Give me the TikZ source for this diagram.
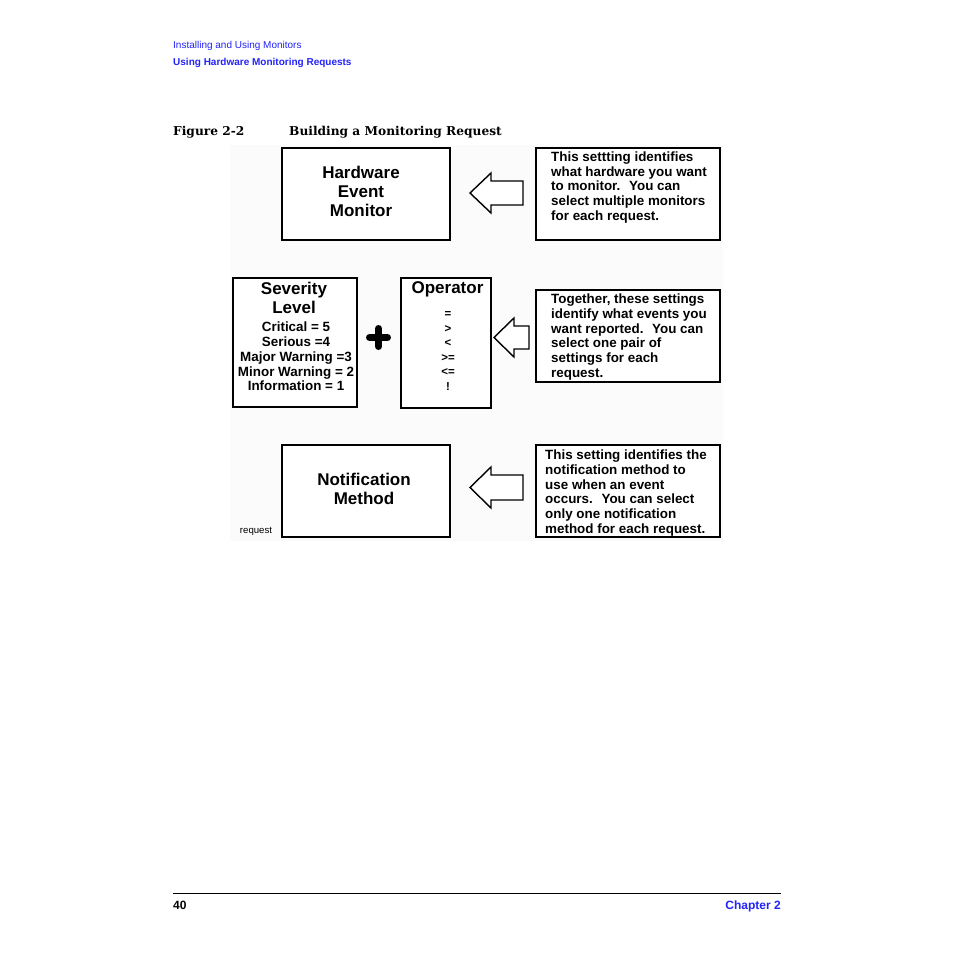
\documentclass[tikz,border=0pt]{standalone}
\usepackage{fontspec}
\setmainfont{Liberation Sans}
\newfontfamily\capfont{DejaVu Serif}
\usetikzlibrary{positioning}
\definecolor{hdrblue}{RGB}{35,35,250}

\begin{document}
\begin{tikzpicture}[x=1pt,y=-1pt,inner sep=0pt]
  \tikzstyle{mainbox}=[draw=black,line width=2.4pt,fill=white]
  \tikzstyle{descbox}=[draw=black,line width=1.6pt,fill=white,minimum width=184pt,minimum height=92pt]
  \tikzstyle{bigtext}=[align=center,font=\fontsize{17}{19}\selectfont\bfseries]
  \tikzstyle{desctext}=[align=left,anchor=west,font=\fontsize{13.4}{14.75}\selectfont\bfseries]
  \tikzstyle{listtext}=[align=center,font=\fontsize{13.4}{14.75}\selectfont\bfseries]
  \tikzstyle{optext}=[align=center,font=\fontsize{11.5}{14.6}\selectfont\bfseries]
  \tikzstyle{blockarrow}=[draw=black,line width=1.4pt,fill=white,line join=miter]
  \tikzstyle{plusbar}=[line width=7pt,line cap=round]
  \tikzstyle{pagetext}=[anchor=base west,font=\fontsize{10}{12}\selectfont]

  \useasboundingbox (0,0) rectangle (954,954);
  \fill[white] (0,0) rectangle (954,954);
  \fill[black!1.5] (230,145) rectangle (723,541);

  % running head and foot
  \node[pagetext,text=hdrblue] (head1) at (173,48) {Installing and Using Monitors};
  \node[pagetext,text=hdrblue,font=\fontsize{10}{12}\selectfont\bfseries] (head2) at (173,65) {Using Hardware Monitoring Requests};
  \node[pagetext,font=\fontsize{12.2}{14}\selectfont\capfont\bfseries] (fignum) at (173,135) {Figure 2-2};
  \node[pagetext,font=\fontsize{12.2}{14}\selectfont\capfont\bfseries] (figtitle) at (289,135) {Building a Monitoring Request};
  \coordinate (footl) at (173,893);
  \coordinate (footr) at (781,893);
  \draw[line width=1pt] (footl) -- (footr);
  \node[pagetext,font=\fontsize{12}{14}\selectfont\bfseries] (pagenum) at (173,909.5) {40};
  \node[pagetext,anchor=base east,text=hdrblue,font=\fontsize{12}{14}\selectfont\bfseries] (chapter) at (781,909.5) {Chapter 2};

  % boxes
  \node[mainbox,minimum width=168pt,minimum height=92pt] (hw) at (366,194) {};
  \node[bigtext] (hwtext) at (361,191) {Hardware\\Event\\Monitor};
  \node[descbox] (hwdesc) at (628,194) {};
  \node[desctext] (hwdesctext) at (551,187.5) {This settting identifies\\what hardware you want\\to monitor.~ You can\\select multiple monitors\\for each request.};

  \node[mainbox,minimum width=124pt,minimum height=129pt] (sev) at (295,342.5) {};
  \node[bigtext] (sevtitle) at (294,297.5) {Severity\\Level};
  \node[listtext] (sevlist) at (296,356.5) {Critical = 5\\Serious =4\\Major Warning =3\\Minor Warning = 2\\Information = 1};
  \node[mainbox,minimum width=90pt,minimum height=130pt] (op) at (446,343) {};
  \node[bigtext] (optitle) at (447.5,289) {Operator};
  \node[optext] (oplist) at (448,351) {=\\>\\<\\>=\\<=\\!};
  \node[descbox] (evdesc) at (628,336) {};
  \node[desctext] (evdesctext) at (551,337) {Together, these settings\\identify what events you\\want reported.~ You can\\select one pair of\\settings for each\\request.};

  \node[mainbox,minimum width=168pt,minimum height=92pt] (nm) at (366,491) {};
  \node[bigtext] (nmtext) at (364,489) {Notification\\Method};
  \node[font=\fontsize{9.6}{11}\selectfont,anchor=base] (req) at (256,533) {request};
  \node[descbox] (nmdesc) at (628,491) {};
  \node[desctext] (nmdesctext) at (545,493) {This setting identifies the\\notification method to\\use when an event\\occurs.~ You can select\\only one notification\\method for each request.};

  % block arrows and the plus
  \coordinate (tip1) at (470,193);
  \coordinate (tip2) at (494,337.5);
  \coordinate (tip3) at (470,487.5);
  \draw[blockarrow] (tip1) -- ++(21,-20) -- ++(0,8) -- ++(32,0) -- ++(0,24) -- ++(-32,0) -- ++(0,8) -- cycle;
  \draw[blockarrow] (tip2) -- ++(20,-19.5) -- ++(0,8) -- ++(15,0) -- ++(0,23) -- ++(-15,0) -- ++(0,8) -- cycle;
  \draw[blockarrow] (tip3) -- ++(21,-20.5) -- ++(0,8) -- ++(32,0) -- ++(0,25) -- ++(-32,0) -- ++(0,8) -- cycle;
  \coordinate (plus) at (378.5,337.5);
  \draw[plusbar] (plus) ++(-9,0) -- ++(18,0);
  \draw[plusbar] (plus) ++(0,-9) -- ++(0,18);
\end{tikzpicture}
\end{document}
